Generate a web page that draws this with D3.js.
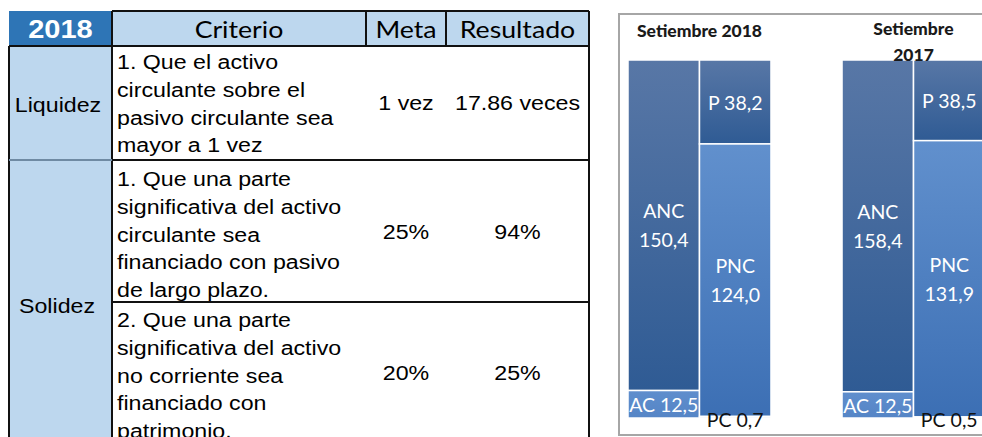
<!DOCTYPE html>
<html lang="es">
<head>
<meta charset="UTF-8">
<title>Liquidez y solidez 2018</title>
<script src="https://d3js.org/d3.v7.min.js"></script>
<style>
  body { margin: 0; background: #fff; }
  svg { display: block; }
</style>
</head>
<body>
<script>
// ---- table data ----
const headers = ["2018", "Criterio", "Meta", "Resultado"];
const groups = ["Liquidez", "Solidez"];
const criteria = [
  ["1. Que el activo", "circulante sobre el", "pasivo circulante sea", "mayor a 1 vez"],
  ["1. Que una parte", "significativa del activo", "circulante sea", "financiado con pasivo", "de largo plazo."],
  ["2. Que una parte", "significativa del activo", "no corriente sea", "financiado con", "patrimonio."]
];
const metas = ["1 vez", "25%", "20%"];
const results = ["17.86 veces", "94%", "25%"];

// ---- balance chart data (millones) ----
const periods = ["Setiembre 2018", "Setiembre 2017"];
const ancValues = [150.4, 158.4];
const acValues = [12.5, 12.5];
const pValues = [38.2, 38.5];
const pncValues = [124.0, 131.9];
const pcValues = [0.7, 0.5];

const W = 982, H = 437;
const svg = d3.select("body").append("svg").attr("width", W).attr("height", H);

const defs = svg.append("defs");
function grad(id, top, bottom) {
  const g = defs.append("linearGradient").attr("id", id).attr("x1", 0).attr("y1", 0).attr("x2", 0).attr("y2", 1);
  g.append("stop").attr("offset", "0%").attr("stop-color", top);
  g.append("stop").attr("offset", "100%").attr("stop-color", bottom);
}
grad("gDark", "#5877a6", "#2f5b94");
grad("gLight", "#6190cd", "#3c6fb4");
grad("gAC", "#5f8ecd", "#5585c6");

// ---------------- table ----------------
const sx = 1.16; // the table is a bit stretched horizontally
const colX = [9, 112, 366, 446, 589];
const headTop = 11, headBot = 46;
const rowY = [46, 160, 302, 452];
const tbl = svg.append("g");

function stext(g, x, y, txt, size, anchor, opts) {
  opts = opts || {};
  return g.append("text")
    .attr("transform", `translate(${x},${y}) scale(${sx},1)`)
    .attr("text-anchor", anchor)
    .attr("font-family", opts.family || "'Liberation Sans', Arial, sans-serif")
    .attr("font-size", size)
    .attr("font-weight", opts.weight || "normal")
    .attr("fill", opts.fill || "#000")
    .text(txt);
}

// header fills
tbl.append("rect").attr("x", colX[0]).attr("y", headTop).attr("width", colX[1] - colX[0]).attr("height", headBot - headTop).attr("fill", "#2e75b6");
tbl.append("rect").attr("x", colX[1]).attr("y", headTop).attr("width", colX[4] - colX[1]).attr("height", headBot - headTop).attr("fill", "#bdd7ee");
// group column fill
tbl.append("rect").attr("x", colX[0]).attr("y", headBot).attr("width", colX[1] - colX[0]).attr("height", H - headBot).attr("fill", "#bdd7ee");

headers.forEach((h, i) => {
  const cx = (colX[i] + colX[i + 1]) / 2;
  if (i === 0) stext(tbl, cx, 38, h, 25, "middle", {weight: "bold", fill: "#fff"});
  else stext(tbl, cx, 38, h, 23, "middle", {family: "Lato, 'Open Sans', sans-serif"});
});

// group labels
stext(tbl, 58, 112, groups[0], 20, "middle");
stext(tbl, 57, 313, groups[1], 20, "middle");

// criteria text
const firstBase = [69, 186, 327];
criteria.forEach((lines, r) => {
  lines.forEach((ln, k) => stext(tbl, 117, firstBase[r] + k * 27.8, ln, 20, "start"));
});
const valBase = [110, 239, 380];
metas.forEach((m, r) => stext(tbl, (colX[2] + colX[3]) / 2, valBase[r], m, 20, "middle"));
results.forEach((m, r) => stext(tbl, (colX[3] + colX[4]) / 2, valBase[r], m, 20, "middle"));

// grid lines
const ln = (x1, y1, x2, y2, c) => tbl.append("line").attr("x1", x1).attr("y1", y1).attr("x2", x2).attr("y2", y2)
  .attr("stroke", c || "#111").attr("stroke-width", 2);
ln(colX[1], headTop, colX[4], headTop);
ln(colX[0], headBot, colX[4], headBot);
[1, 2, 3].forEach(i => ln(colX[i], headTop, colX[i], headBot));
ln(colX[4], headTop, colX[4], H);
ln(colX[0], headBot, colX[0], H);
ln(colX[1], headBot, colX[1], H);
ln(colX[0], rowY[1], colX[1], rowY[1], "#6f8aa3");
ln(colX[1], rowY[1], colX[4], rowY[1]);
ln(colX[1], rowY[2], colX[4], rowY[2]);

// ---------------- balance chart ----------------
const chart = svg.append("g");
chart.append("rect").attr("x", 619).attr("y", 14).attr("width", 400).attr("height", 421)
  .attr("fill", "#fff").attr("stroke", "#a6a6a6").attr("stroke-width", 2);

const x = d3.scaleBand().domain(periods).range([628, 985]).paddingInner(0.332);
const side = d3.scaleBand().domain(["activo", "pasivo"]).range([0, x.bandwidth()]);
const barTop = 60, barBot = 418;

const font = "Lato, 'Open Sans', sans-serif";
const fmt = v => d3.format(".1f")(v).replace(".", ",");

periods.forEach((p, i) => {
  const total = ancValues[i] + acValues[i];
  const y = d3.scaleLinear().domain([0, total]).range([barTop, barBot]);
  const xa = x(p) + side("activo"), xp = x(p) + side("pasivo"), bw = side.bandwidth();

  const segs = [
    {x: xa, y0: 0, y1: ancValues[i], fill: "url(#gDark)", lab: ["ANC", fmt(ancValues[i])]},
    {x: xa, y0: ancValues[i], y1: total, fill: "url(#gAC)", lab: ["AC " + fmt(acValues[i])]},
    {x: xp, y0: 0, y1: pValues[i], fill: "url(#gDark)", lab: ["P " + fmt(pValues[i])]},
    {x: xp, y0: pValues[i], y1: pValues[i] + pncValues[i], fill: "url(#gLight)", lab: ["PNC", fmt(pncValues[i])]},
    {x: xp, y0: pValues[i] + pncValues[i], y1: total, fill: "#3c6fb4", lab: null}
  ];

  chart.selectAll(null).data(segs).enter().append("rect")
    .attr("x", d => d.x).attr("y", d => y(d.y0))
    .attr("width", bw).attr("height", d => y(d.y1) - y(d.y0))
    .attr("fill", d => d.fill).attr("stroke", "#fff").attr("stroke-width", 1.5);

  segs.filter(d => d.lab).forEach(d => {
    const cy = (y(d.y0) + y(d.y1)) / 2;
    const t = chart.append("text").attr("text-anchor", "middle").attr("font-family", font)
      .attr("font-size", 19.5).attr("fill", "#fff");
    if (d.lab.length === 2) {
      t.append("tspan").attr("x", d.x + bw / 2).attr("y", cy - 7).text(d.lab[0]);
      t.append("tspan").attr("x", d.x + bw / 2).attr("y", cy + 22).text(d.lab[1]);
    } else {
      t.attr("x", d.x + bw / 2).attr("y", cy + 8).text(d.lab[0]);
    }
  });

  chart.append("text").attr("x", xp + bw / 2).attr("y", 427).attr("text-anchor", "middle")
    .attr("font-family", font).attr("font-size", 19.5).attr("fill", "#111")
    .text("PC " + fmt(pcValues[i]));
});

// titles; the "2017" of the second one sits over the top edge of the bars
periods.forEach((p, i) => {
  const cx = x(p) + x.bandwidth() / 2;
  const t = chart.append("text").attr("text-anchor", "middle").attr("font-family", font)
    .attr("font-size", 17.5).attr("font-weight", "900").attr("fill", "#1a1a1a");
  if (i === 0) t.attr("x", cx).attr("y", 37).text(p);
  else {
    const parts = p.split(" ");
    t.append("tspan").attr("x", cx).attr("y", 35).text(parts[0]);
    t.append("tspan").attr("x", cx).attr("y", 61).text(parts[1]);
  }
});
</script>
</body>
</html>
